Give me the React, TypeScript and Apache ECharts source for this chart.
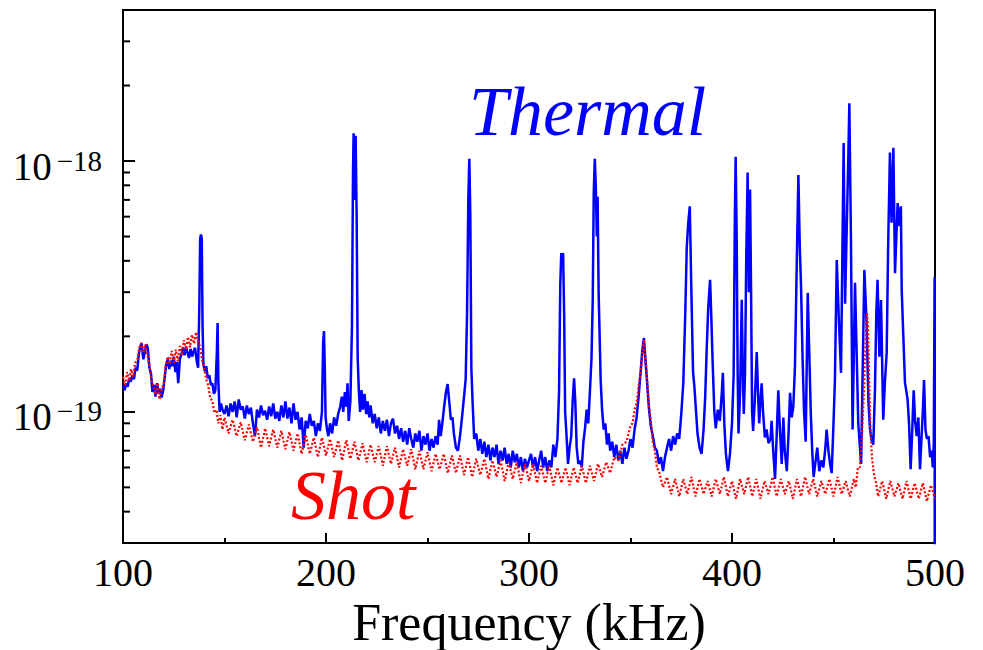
import React, { useEffect, useRef } from "react";
import * as echarts from "echarts";

const FONT = "'Liberation Serif', 'Times New Roman', serif";

const xTickValues = [100, 200, 300, 400, 500];
const yMinorTicks = [4e-20, 5e-20, 6e-20, 7e-20, 8e-20, 9e-20, 2e-19, 3e-19, 4e-19, 5e-19, 6e-19, 7e-19, 8e-19, 9e-19, 2e-18, 3e-18];

// Thermal spectrum [frequency kHz, PSD]
const thermal: [number, number][] = [
  [100, 1.28e-19], [100.8, 1.22e-19], [101.5, 1.30e-19], [102.3, 1.26e-19], [103, 1.36e-19], [103.8, 1.32e-19], [104.6, 1.40e-19], [105.4, 1.35e-19],
  [106.2, 1.50e-19], [107, 1.46e-19], [107.8, 1.70e-19], [108.5, 1.82e-19], [109.2, 1.88e-19], [110, 1.62e-19], [110.7, 1.72e-19], [111.5, 1.86e-19],
  [112.2, 1.80e-19], [113, 1.50e-19], [113.8, 1.42e-19], [114.5, 1.20e-19], [115.3, 1.28e-19], [116, 1.15e-19], [116.8, 1.30e-19], [117.5, 1.18e-19],
  [118.3, 1.24e-19], [119, 1.14e-19], [119.8, 1.22e-19], [120.5, 1.36e-19], [121.3, 1.55e-19], [122, 1.62e-19], [122.8, 1.48e-19], [123.5, 1.60e-19],
  [124.3, 1.52e-19], [125, 1.66e-19], [125.8, 1.44e-19], [126.5, 1.58e-19], [127.2, 1.30e-19], [128, 1.62e-19], [128.8, 1.70e-19], [129.5, 1.80e-19],
  [130.3, 1.68e-19], [131, 1.82e-19], [131.8, 1.72e-19], [132.5, 1.64e-19], [133.3, 1.78e-19], [134, 1.66e-19], [134.8, 1.74e-19], [135.5, 1.80e-19],
  [136.3, 1.60e-19], [137, 1.50e-19], [137.6, 2.6e-19], [138, 4.9e-19], [138.4, 5.1e-19], [138.8, 4.9e-19], [139.2, 2.2e-19], [139.6, 1.55e-19],
  [140.3, 1.45e-19], [141, 1.52e-19], [141.8, 1.36e-19], [142.5, 1.40e-19], [143.3, 1.28e-19], [144, 1.30e-19], [144.8, 1.18e-19], [145.5, 1.22e-19],
  [146.2, 1.70e-19], [146.6, 2.26e-19], [147, 1.30e-19], [147.6, 1.00e-19], [148.3, 1.08e-19], [149, 1.02e-19],
  [150, 0.98e-19], [151, 1.06e-19], [152, 0.96e-19], [153, 1.08e-19], [154, 1.00e-19], [155, 1.10e-19], [156, 0.95e-19], [157, 1.12e-19],
  [158, 1.02e-19], [159, 1.05e-19], [160, 0.94e-19], [161, 1.06e-19], [162, 0.98e-19], [163, 1.04e-19], [164, 0.90e-19], [165, 0.80e-19],
  [166, 1.02e-19], [167, 0.95e-19], [168, 1.06e-19], [169, 0.97e-19], [170, 1.01e-19], [171, 0.93e-19], [172, 1.05e-19], [173, 0.96e-19],
  [174, 1.08e-19], [175, 0.94e-19], [176, 1.00e-19], [177, 0.92e-19], [178, 1.06e-19], [179, 0.95e-19], [180, 1.10e-19], [181, 0.94e-19],
  [182, 1.04e-19], [183, 0.90e-19], [184, 1.08e-19], [185, 0.93e-19], [186, 1.00e-19], [187, 0.85e-19], [188, 0.95e-19], [189, 0.72e-19],
  [190, 0.92e-19], [191, 0.86e-19], [192, 0.98e-19], [193, 0.88e-19], [194, 0.92e-19], [195, 0.80e-19], [196, 0.90e-19], [197, 0.84e-19],
  [198, 1.00e-19], [198.6, 1.9e-19], [199, 2.1e-19], [199.4, 1.5e-19], [199.8, 0.95e-19], [200.5, 0.85e-19], [201.2, 0.80e-19], [202, 0.90e-19],
  [203, 0.82e-19], [204, 0.95e-19], [205, 0.88e-19], [206, 0.98e-19], [207, 1.05e-19], [207.8, 1.15e-19], [208.5, 1.00e-19], [209.3, 1.20e-19],
  [210, 1.05e-19], [210.6, 1.30e-19], [211.2, 0.92e-19], [212, 1.10e-19], [212.8, 2.2e-19], [213.3, 9.0e-19], [213.6, 12.9e-19], [214.1, 7.0e-19],
  [214.6, 12.6e-19], [215.1, 6.0e-19], [215.6, 1.65e-19], [216.2, 1.20e-19], [216.8, 1.00e-19], [217.5, 1.22e-19], [218.2, 1.02e-19], [219, 1.18e-19],
  [219.8, 0.98e-19], [220.5, 1.10e-19], [221.3, 0.95e-19], [222, 1.06e-19], [223, 0.90e-19], [224, 0.98e-19], [225, 0.86e-19], [226, 0.95e-19],
  [227, 0.82e-19], [228, 0.92e-19], [229, 0.84e-19], [230, 0.93e-19], [231, 0.80e-19], [232, 0.90e-19], [233, 0.94e-19], [234, 0.82e-19],
  [235, 0.88e-19], [236, 0.78e-19], [237, 0.86e-19], [238, 0.76e-19], [239, 0.84e-19], [240, 0.74e-19], [241, 0.86e-19], [242, 0.78e-19],
  [243, 0.72e-19], [244, 0.82e-19], [245, 0.76e-19], [246, 0.84e-19], [247, 0.70e-19], [248, 0.80e-19], [249, 0.74e-19], [250, 0.82e-19],
  [251, 0.70e-19], [252, 0.78e-19], [253, 0.72e-19], [254, 0.80e-19], [255, 0.74e-19], [255.7, 0.93e-19], [256.5, 0.80e-19], [257.3, 0.90e-19],
  [258.2, 1.05e-19], [259.1, 1.20e-19], [259.9, 1.29e-19], [260.7, 1.10e-19], [261.5, 0.93e-19], [262.3, 0.95e-19], [263, 0.82e-19], [264, 0.72e-19],
  [265, 0.70e-19], [266, 0.80e-19], [267, 0.95e-19], [268, 1.15e-19], [268.8, 1.35e-19], [269.5, 2.5e-19], [270.1, 7.0e-19], [270.6, 10.2e-19],
  [271.1, 6.0e-19], [271.6, 1.5e-19], [272.2, 1.1e-19], [273, 0.78e-19], [274, 0.82e-19], [275, 0.70e-19], [276, 0.78e-19], [277, 0.68e-19],
  [278, 0.76e-19], [279, 0.66e-19], [280, 0.74e-19], [281, 0.64e-19], [282, 0.72e-19], [283, 0.66e-19], [284, 0.74e-19], [285, 0.62e-19],
  [286, 0.70e-19], [287, 0.64e-19], [288, 0.72e-19], [289, 0.62e-19], [290, 0.68e-19], [291, 0.60e-19], [292, 0.70e-19], [293, 0.63e-19],
  [294, 0.68e-19], [295, 0.60e-19], [296, 0.66e-19], [297, 0.58e-19], [298, 0.65e-19], [299, 0.60e-19], [300, 0.64e-19], [301, 0.68e-19],
  [302, 0.60e-19], [303, 0.66e-19], [304, 0.58e-19], [305, 0.64e-19], [306, 0.70e-19], [307, 0.60e-19], [308, 0.66e-19], [309, 0.58e-19],
  [310, 0.64e-19], [311, 0.60e-19], [312, 0.74e-19], [313, 0.66e-19], [314, 0.78e-19], [314.8, 1.2e-19], [315.4, 3.2e-19], [315.9, 4.3e-19],
  [316.3, 3.8e-19], [316.8, 4.3e-19], [317.3, 2.5e-19], [317.8, 1.0e-19], [318.5, 0.80e-19], [319.2, 0.62e-19], [320, 0.72e-19], [320.8, 0.80e-19],
  [321.5, 1.10e-19], [322.2, 1.36e-19], [322.8, 1.10e-19], [323.5, 0.72e-19], [324.3, 0.62e-19], [325.2, 0.64e-19], [326, 0.60e-19], [326.8, 0.76e-19],
  [327.6, 0.86e-19], [328.4, 1.02e-19], [329.2, 0.90e-19], [330, 1.20e-19], [330.8, 1.65e-19], [331.4, 2.8e-19], [331.9, 7.5e-19], [332.4, 10.2e-19],
  [332.9, 8.0e-19], [333.4, 5.0e-19], [333.8, 7.2e-19], [334.3, 3.0e-19], [334.8, 2.0e-19], [335.3, 1.34e-19], [336, 1.02e-19], [336.8, 0.85e-19],
  [337.6, 0.90e-19], [338.4, 0.74e-19], [339.2, 0.82e-19], [340, 0.70e-19], [341, 0.76e-19], [342, 0.66e-19], [343, 0.74e-19], [344, 0.64e-19],
  [345, 0.70e-19], [346, 0.62e-19], [347, 0.72e-19], [348, 0.65e-19], [349, 0.70e-19], [350, 0.78e-19], [351, 0.72e-19], [352, 0.85e-19],
  [353, 0.95e-19], [354, 1.15e-19], [355, 1.45e-19], [355.8, 1.75e-19], [356.6, 1.97e-19], [357.4, 1.60e-19], [358.2, 1.30e-19], [359, 1.05e-19],
  [360, 0.88e-19], [361, 0.80e-19], [362, 0.72e-19], [363, 0.70e-19], [364, 0.62e-19], [365, 0.66e-19], [366, 0.58e-19], [367, 0.66e-19],
  [368, 0.72e-19], [369, 0.78e-19], [370, 0.70e-19], [371, 0.80e-19], [372, 0.74e-19], [373, 0.82e-19], [374, 0.78e-19], [375, 0.98e-19],
  [376, 1.30e-19], [377, 2.5e-19], [377.7, 4.5e-19], [378.4, 5.6e-19], [379.2, 6.6e-19], [380, 3.0e-19], [380.8, 1.45e-19], [381.5, 1.25e-19],
  [382.3, 1.00e-19], [383, 0.82e-19], [384, 0.72e-19], [385, 0.68e-19], [386, 0.85e-19], [386.8, 1.15e-19], [387.5, 1.75e-19], [388.3, 2.6e-19],
  [389.2, 3.36e-19], [389.8, 2.4e-19], [390.5, 1.55e-19], [391.3, 1.00e-19], [392, 0.86e-19], [393, 1.02e-19], [394, 0.92e-19], [395, 1.20e-19],
  [395.5, 1.43e-19], [396.2, 0.90e-19], [397, 0.68e-19], [398, 0.58e-19], [399, 0.68e-19], [400, 0.90e-19], [400.8, 1.4e-19], [401.4, 6.0e-19],
  [401.8, 10.4e-19], [402.3, 5.0e-19], [402.8, 1.4e-19], [403.2, 0.82e-19], [404, 1.20e-19], [404.8, 2.8e-19], [405.3, 1.5e-19], [405.8, 0.98e-19],
  [406.4, 1.40e-19], [407, 4.0e-19], [407.7, 9.0e-19], [408.3, 3.0e-19], [408.9, 7.7e-19], [409.4, 3.0e-19], [409.9, 1.00e-19], [410.4, 0.84e-19],
  [411.2, 1.10e-19], [412.2, 1.73e-19], [412.8, 1.20e-19], [413.4, 0.90e-19], [414, 1.10e-19], [414.6, 1.30e-19], [415.3, 1.00e-19], [416.2, 0.79e-19],
  [417, 0.85e-19], [418, 0.75e-19], [419, 0.78e-19], [419.5, 0.92e-19], [420.3, 0.70e-19], [421.2, 0.54e-19], [422, 0.80e-19], [422.8, 1.22e-19],
  [423.6, 0.85e-19], [424.5, 0.62e-19], [425.3, 0.95e-19], [426, 0.70e-19], [427, 0.58e-19], [427.8, 0.80e-19], [428.6, 1.19e-19], [429.4, 0.95e-19],
  [430.2, 1.05e-19], [431, 1.50e-19], [431.8, 3.5e-19], [432.7, 8.8e-19], [433.4, 4.5e-19], [434, 3.2e-19], [434.8, 1.60e-19], [435.5, 1.00e-19],
  [436.3, 0.76e-19], [437.3, 2.98e-19], [438, 1.80e-19], [438.8, 1.00e-19], [439.5, 0.70e-19], [440.2, 0.55e-19], [441, 0.62e-19], [442, 0.72e-19],
  [443, 0.58e-19], [444, 0.64e-19], [445, 0.60e-19], [446, 0.72e-19], [446.6, 0.85e-19], [447.5, 0.70e-19], [448.3, 0.62e-19], [449.1, 0.57e-19],
  [450, 0.90e-19], [450.7, 1.34e-19], [451.6, 4.03e-19], [452.7, 2.26e-19], [453.7, 1.43e-19], [455, 11.8e-19], [455.7, 2.7e-19], [457.3, 10.4e-19],
  [457.8, 17.0e-19], [458.6, 4.84e-19], [459.4, 0.85e-19], [460.6, 3.27e-19], [462.2, 0.90e-19], [463.6, 0.62e-19], [465.2, 3.68e-19], [466.3, 2.26e-19],
  [467.2, 1.10e-19], [468, 0.85e-19], [468.8, 0.77e-19], [469.6, 0.74e-19], [470.4, 1.20e-19], [471.1, 2.5e-19], [471.7, 3.36e-19], [472.6, 1.66e-19],
  [473.4, 2.79e-19], [474.5, 0.93e-19], [475.3, 1.30e-19], [476.2, 1.72e-19], [476.9, 4.5e-19], [477.8, 10.8e-19], [478.6, 5.67e-19], [479.5, 11.3e-19],
  [480.3, 3.57e-19], [481.6, 6.8e-19], [482.4, 5.5e-19], [483.2, 6.6e-19], [483.6, 3.06e-19], [484.4, 2.0e-19], [485.2, 1.31e-19], [486.5, 1.12e-19],
  [487.2, 0.90e-19], [488, 0.59e-19], [488.8, 0.85e-19], [489.5, 1.22e-19], [490.2, 0.92e-19], [491, 0.80e-19], [491.8, 0.95e-19], [492.6, 0.59e-19],
  [493.4, 0.80e-19], [494, 1.00e-19], [494.6, 1.34e-19], [495.3, 0.85e-19], [496, 0.78e-19], [496.8, 0.80e-19], [497.6, 0.66e-19], [498.3, 0.70e-19],
  [498.9, 0.60e-19], [499.4, 0.75e-19], [499.8, 3.45e-19], [500, 1e-22],
];

// Shot-noise spectrum [frequency kHz, PSD]
const shot: [number, number][] = [
  [100, 1.38e-19], [101, 1.28e-19], [102, 1.44e-19], [103, 1.33e-19], [104, 1.48e-19], [105, 1.38e-19], [106, 1.57e-19], [107, 1.60e-19],
  [108, 1.80e-19], [109, 1.88e-19], [110, 1.72e-19], [111, 1.86e-19], [112, 1.68e-19], [113, 1.54e-19], [114, 1.34e-19], [115, 1.27e-19],
  [116, 1.17e-19], [117, 1.30e-19], [118, 1.12e-19], [119, 1.24e-19], [120, 1.28e-19], [121, 1.52e-19], [122, 1.66e-19], [123, 1.55e-19],
  [124, 1.75e-19], [125, 1.57e-19], [126, 1.77e-19], [127, 1.59e-19], [128, 1.83e-19], [129, 1.69e-19], [130, 1.93e-19], [131, 1.77e-19],
  [132, 1.99e-19], [133, 1.81e-19], [134, 2.03e-19], [135, 1.87e-19], [136, 2.08e-19], [137, 1.90e-19], [138, 1.82e-19], [139, 1.60e-19],
  [140, 1.50e-19], [141, 1.35e-19], [142, 1.27e-19], [143, 1.13e-19], [144, 1.11e-19], [145, 0.99e-19], [146, 1.02e-19], [147, 0.90e-19],
  [148, 0.97e-19], [149, 0.85e-19], [150, 0.95e-19], [152, 0.82e-19], [154, 0.93e-19], [156, 0.80e-19], [158, 0.91e-19], [160, 0.77e-19],
  [162, 0.89e-19], [164, 0.76e-19], [166, 0.87e-19], [168, 0.72e-19], [170, 0.86e-19], [172, 0.73e-19], [174, 0.85e-19], [176, 0.72e-19],
  [178, 0.84e-19], [180, 0.71e-19], [182, 0.83e-19], [184, 0.70e-19], [186, 0.82e-19], [188, 0.68e-19], [190, 0.81e-19], [192, 0.68e-19],
  [194, 0.79e-19], [196, 0.66e-19], [198, 0.79e-19], [200, 0.67e-19], [202, 0.78e-19], [204, 0.66e-19], [206, 0.77e-19], [208, 0.64e-19],
  [210, 0.77e-19], [212, 0.65e-19], [214, 0.76e-19], [216, 0.64e-19], [218, 0.75e-19], [220, 0.63e-19], [222, 0.74e-19], [224, 0.63e-19],
  [226, 0.73e-19], [228, 0.61e-19], [230, 0.73e-19], [232, 0.62e-19], [234, 0.72e-19], [236, 0.60e-19], [238, 0.71e-19], [240, 0.61e-19],
  [242, 0.71e-19], [244, 0.59e-19], [246, 0.70e-19], [248, 0.59e-19], [250, 0.69e-19], [252, 0.58e-19], [254, 0.68e-19], [256, 0.59e-19],
  [258, 0.68e-19], [260, 0.57e-19], [262, 0.67e-19], [264, 0.57e-19], [266, 0.67e-19], [268, 0.56e-19], [270, 0.66e-19], [272, 0.55e-19],
  [274, 0.65e-19], [276, 0.56e-19], [278, 0.65e-19], [280, 0.54e-19], [282, 0.64e-19], [284, 0.55e-19], [286, 0.64e-19], [288, 0.53e-19],
  [290, 0.63e-19], [292, 0.54e-19], [294, 0.63e-19], [296, 0.52e-19], [298, 0.62e-19], [300, 0.53e-19], [302, 0.62e-19], [304, 0.52e-19],
  [306, 0.61e-19], [308, 0.52e-19], [310, 0.61e-19], [312, 0.51e-19], [314, 0.60e-19], [316, 0.52e-19], [318, 0.60e-19], [320, 0.51e-19],
  [322, 0.60e-19], [324, 0.52e-19], [326, 0.61e-19], [328, 0.52e-19], [330, 0.61e-19], [332, 0.53e-19], [334, 0.62e-19], [336, 0.55e-19],
  [338, 0.63e-19], [340, 0.57e-19], [342, 0.66e-19], [344, 0.64e-19], [346, 0.74e-19], [348, 0.76e-19], [350, 0.88e-19], [351, 0.90e-19],
  [352, 1.02e-19], [353, 1.08e-19], [354, 1.27e-19], [355, 1.43e-19], [356, 1.77e-19], [356.6, 1.94e-19], [357.2, 1.68e-19], [358, 1.42e-19],
  [359, 1.08e-19], [360, 0.92e-19], [361, 0.76e-19], [362, 0.70e-19], [363, 0.60e-19], [364, 0.58e-19], [366, 0.50e-19], [368, 0.55e-19],
  [370, 0.47e-19], [372, 0.54e-19], [374, 0.46e-19], [376, 0.54e-19], [378, 0.47e-19], [380, 0.55e-19], [382, 0.46e-19], [384, 0.54e-19],
  [386, 0.47e-19], [388, 0.53e-19], [390, 0.46e-19], [392, 0.54e-19], [394, 0.47e-19], [396, 0.55e-19], [398, 0.46e-19], [400, 0.53e-19],
  [402, 0.45e-19], [404, 0.54e-19], [406, 0.47e-19], [408, 0.55e-19], [410, 0.46e-19], [412, 0.54e-19], [414, 0.45e-19], [416, 0.53e-19],
  [418, 0.47e-19], [420, 0.55e-19], [422, 0.46e-19], [424, 0.54e-19], [426, 0.47e-19], [428, 0.53e-19], [430, 0.45e-19], [432, 0.54e-19],
  [434, 0.46e-19], [436, 0.55e-19], [438, 0.47e-19], [440, 0.54e-19], [442, 0.46e-19], [444, 0.53e-19], [446, 0.47e-19], [448, 0.54e-19],
  [450, 0.46e-19], [452, 0.55e-19], [454, 0.47e-19], [456, 0.53e-19], [458, 0.46e-19], [460, 0.54e-19], [461, 0.50e-19], [462, 0.60e-19],
  [463, 0.60e-19], [464, 0.80e-19], [465, 1.20e-19], [465.8, 1.90e-19], [466.5, 2.48e-19], [467, 2.20e-19], [467.6, 1.30e-19], [468.2, 0.85e-19],
  [469, 0.65e-19], [470, 0.56e-19], [471, 0.52e-19], [472, 0.46e-19], [474, 0.53e-19], [476, 0.45e-19], [478, 0.53e-19], [480, 0.46e-19],
  [482, 0.52e-19], [484, 0.45e-19], [486, 0.53e-19], [488, 0.45e-19], [490, 0.52e-19], [492, 0.45e-19], [494, 0.52e-19], [496, 0.44e-19],
  [498, 0.51e-19], [500, 0.45e-19],
];

const xAxisName = "Frequency (kHz)";
const thermalLabel = "Thermal";
const shotLabel = "Shot";

export default function App() {
  const ref = useRef<HTMLDivElement>(null);
  useEffect(() => {
    if (!ref.current) return;
    const chart = echarts.init(ref.current, undefined, { renderer: "svg" });
    chart.setOption({
      animation: false,
      backgroundColor: "#fff",
      grid: {
        left: 123, right: 48, top: 10, bottom: 107,
        outerBoundsMode: "none", containLabel: false,
        show: true, borderColor: "#000", borderWidth: 2, backgroundColor: "transparent",
      },
      xAxis: {
        type: "value", min: xTickValues[0], max: xTickValues[xTickValues.length - 1], interval: 100,
        axisLine: { show: true, lineStyle: { color: "#000", width: 2 } },
        axisTick: { show: true, inside: true, length: 10, lineStyle: { color: "#000", width: 2 } },
        minorTick: { show: true, splitNumber: 2, length: 5, lineStyle: { color: "#000", width: 2 } },
        splitLine: { show: false }, minorSplitLine: { show: false },
        axisLabel: { color: "#000", fontFamily: FONT, fontSize: 40, margin: 9 },
        name: xAxisName, nameLocation: "middle", nameGap: 41,
        nameTextStyle: { color: "#000", fontFamily: FONT, fontSize: 52 },
      },
      yAxis: {
        type: "log", logBase: 10, min: 3e-20, max: 4e-18,
        axisLine: { show: true, lineStyle: { color: "#000", width: 2 } },
        axisTick: { show: true, inside: true, length: 12, lineStyle: { color: "#000", width: 2 } },
        splitLine: { show: false },
        axisLabel: {
          margin: 21,
          padding: [10, 0, 0, 0],
          formatter: (v: number) => {
            const l = Math.log10(v);
            const e = Math.round(l);
            if (Math.abs(l - e) > 1e-6) return "";
            return `{b|10}{s|\u2212${-e}}`;
          },
          rich: {
            b: { fontFamily: FONT, fontSize: 39, color: "#000", lineHeight: 40 },
            s: { fontFamily: FONT, fontSize: 29, color: "#000", lineHeight: 26, verticalAlign: "top", padding: [0, 0, 0, 5] },
          },
        },
      },
      series: [
        {
          type: "line", data: thermal, showSymbol: false, symbol: "none",
          lineStyle: { color: "#0000ff", width: 2.5 }, z: 2,
        },
        {
          type: "line", data: shot, showSymbol: false, symbol: "none",
          lineStyle: { color: "#ff0000", width: 2.2, type: [2, 2] }, z: 3,
        },
        {
          type: "custom", silent: true, clip: false, z: 5,
          data: yMinorTicks.map((v) => [xTickValues[0], v]),
          renderItem: (params: any, api: any) => {
            const p = api.coord([api.value(0), api.value(1)]);
            return {
              type: "line",
              shape: { x1: p[0], y1: p[1], x2: p[0] + 7, y2: p[1] },
              style: { stroke: "#000", lineWidth: 2 },
            };
          },
        },
      ],
      graphic: [
        {
          type: "text", x: 469, y: 111, silent: true,
          style: { text: thermalLabel, font: `italic 70px ${FONT}`, fill: "#0000ff", align: "left", verticalAlign: "middle" },
        },
        {
          type: "text", x: 291, y: 495, silent: true,
          style: { text: shotLabel, font: `italic 70px ${FONT}`, fill: "#ff0000", align: "left", verticalAlign: "middle" },
        },
      ],
    });
    return () => chart.dispose();
  }, []);
  return <div ref={ref} style={{ position: "absolute", left: 0, top: 0, width: 983, height: 650 }} />;
}
